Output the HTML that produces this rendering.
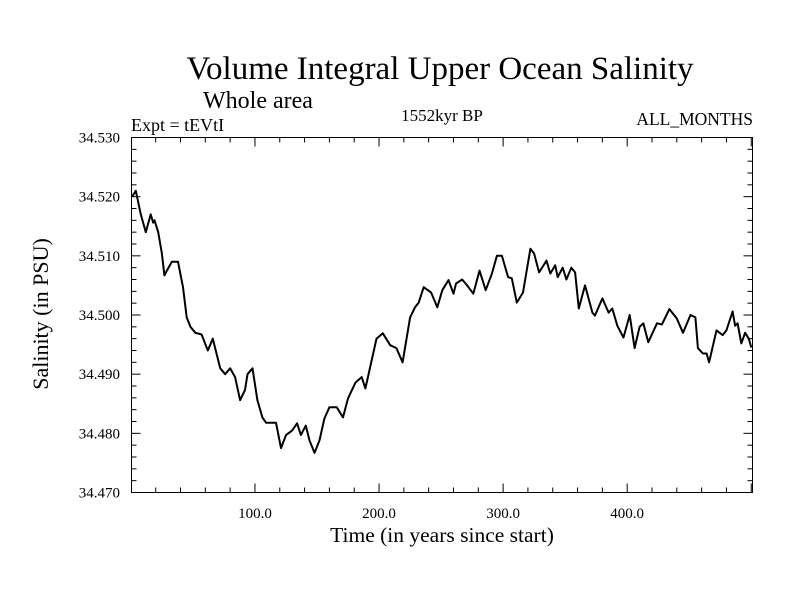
<!DOCTYPE html>
<html><head><meta charset="utf-8"><style>body{margin:0;background:#fff}svg{display:block}text{font-family:"Liberation Serif",serif;fill:#000}</style></head>
<body>
<svg id="chart" width="800" height="600" viewBox="0 0 800 600">
<text x="440" y="79" font-size="33" text-anchor="middle">Volume Integral Upper Ocean Salinity</text>
<text x="203" y="108" font-size="24">Whole area</text>
<text x="131" y="131" font-size="18">Expt = tEVtI</text>
<text x="442" y="121" font-size="17" text-anchor="middle">1552kyr BP</text>
<text x="753" y="125" font-size="17.5" text-anchor="end">ALL_MONTHS</text>
<text x="442" y="542" font-size="21.5" text-anchor="middle">Time (in years since start)</text>
<text x="0" y="0" font-size="22" text-anchor="middle" transform="translate(48,314) rotate(-90)">Salinity (in PSU)</text>
<g id="axes"></g>
<path id="line" fill="none" stroke="#000" stroke-width="2" stroke-linejoin="round"/>
<rect x="131.5" y="137.5" width="621" height="355" fill="none" stroke="#000" stroke-width="1"/>
</svg>
<script>
const years=[1,4,8,12,16,18,19,22,25,27,29,33,38,42,45,48,52,57,62,66,69,72,76,80,84,88,92,94,98,102,106,109,117,121,125,130,134,137,141,144,148,152,156,160,166,171,175,181,186,189,194,198,203,209,214,219,225,229,232,236,242,247,251,256,260,262,267,271,276,281,286,291,295,299,304,307,311,316,322,325,329,335,338,342,344,348,351,355,358,361,366,372,374,380,385,388,392,397,402,406,410,413,417,424,428,434,440,445,451,455,457,461,464,466,472,477,480,485,487,489,492,495,498,500];
const salinity=[34.520,34.521,34.517,34.514,34.517,34.5156,34.516,34.514,34.5104,34.5067,34.5075,34.509,34.509,34.5047,34.4996,34.498,34.497,34.4967,34.494,34.496,34.4935,34.491,34.490,34.491,34.4895,34.4856,34.4873,34.490,34.491,34.4856,34.4827,34.4818,34.4818,34.4775,34.4797,34.4805,34.4817,34.4797,34.4813,34.4788,34.4767,34.4788,34.4825,34.4844,34.4844,34.4827,34.4859,34.4886,34.4895,34.4876,34.4923,34.496,34.4969,34.4949,34.4944,34.492,34.4996,34.5013,34.5021,34.5047,34.5038,34.5013,34.5042,34.5059,34.5036,34.5053,34.506,34.505,34.5036,34.5075,34.5042,34.507,34.510,34.510,34.5064,34.5062,34.5021,34.5038,34.5112,34.5104,34.5072,34.5092,34.507,34.5084,34.5064,34.508,34.506,34.508,34.5072,34.5011,34.505,34.5004,34.4999,34.5028,34.5004,34.5011,34.4982,34.4962,34.500,34.4944,34.498,34.4986,34.4954,34.4986,34.4984,34.501,34.4994,34.497,34.500,34.4996,34.4944,34.4935,34.4935,34.492,34.4974,34.4966,34.4974,34.5006,34.4982,34.4986,34.4952,34.497,34.496,34.4945];
const xTickLabels=["100.0","200.0","300.0","400.0"];
const yTickLabels=["34.470","34.480","34.490","34.500","34.510","34.520","34.530"];
const X0=131.5,X1=752.5,Y0=492.5,Y1=137.5,XMIN=0.5,XMAX=501,YMIN=34.47,YMAX=34.53;
const sx=v=>X0+(v-XMIN)/(XMAX-XMIN)*(X1-X0);
const sy=v=>Y0-(v-YMIN)/(YMAX-YMIN)*(Y0-Y1);
const NS='http://www.w3.org/2000/svg';
const g=document.getElementById('axes');
function ln(x1,y1,x2,y2,name){const l=document.createElementNS(NS,'line');


l.setAttribute('x1',x1);l.setAttribute('y1',y1);l.setAttribute('x2',x2);l.setAttribute('y2',y2);l.setAttribute('stroke','#000');l.setAttribute('stroke-width','1');g.appendChild(l);}
function tx(x,y,s,anchor,name){const t=document.createElementNS(NS,'text');


t.setAttribute('x',x);t.setAttribute('y',y);t.setAttribute('font-size','15');t.setAttribute('text-anchor',anchor);t.textContent=s;g.appendChild(t);}
for(let v=20;v<=500;v+=20){const x=sx(v);const major=v%100===0;const L=major?9:5;
ln(x,Y0,x,Y0-L,'x-tick');ln(x,Y1,x,Y1+L,'x-tick-top');}
xTickLabels.forEach(s=>{tx(sx(parseFloat(s)),518,s,'middle','x-tick-label');});
for(let i=0;i<=30;i++){const v=YMIN+i*0.002;const y=sy(v);const major=i%5===0;const L=major?9:5;
ln(X0,y,X0+L,y,'y-tick');ln(X1,y,X1-L,y,'y-tick-right');}
yTickLabels.forEach(s=>{tx(120,sy(parseFloat(s))+5,s,'end','y-tick-label');});
let d='';years.forEach((yr,i)=>{d+=(i?'L':'M')+sx(yr).toFixed(1)+','+sy(salinity[i]).toFixed(1);});
document.getElementById('line').setAttribute('d',d);
</script>
</body></html>
